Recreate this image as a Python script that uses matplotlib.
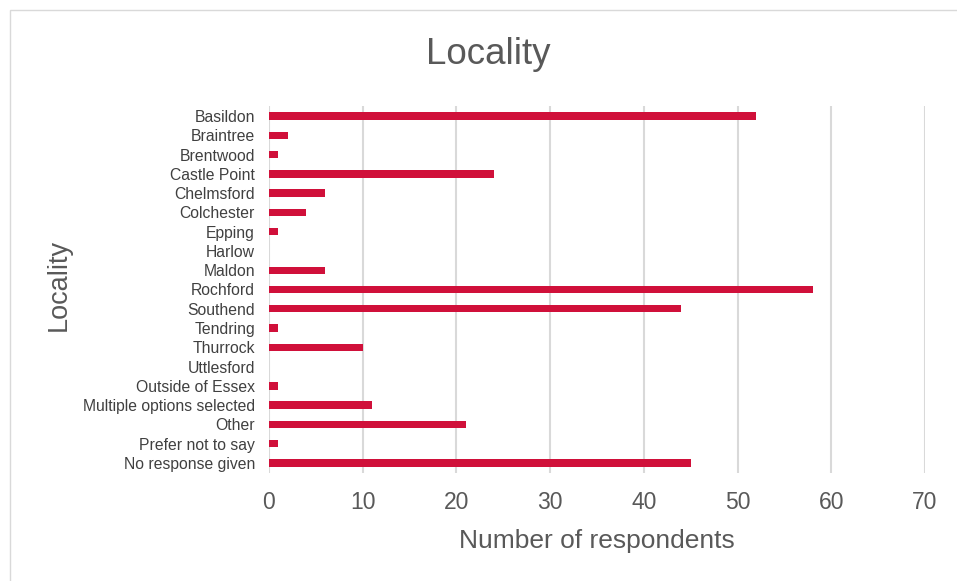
import matplotlib
matplotlib.use("Agg")
import matplotlib.pyplot as plt
from matplotlib.patches import Rectangle

categories = ["Basildon", "Braintree", "Brentwood", "Castle Point", "Chelmsford",
              "Colchester", "Epping", "Harlow", "Maldon", "Rochford", "Southend",
              "Tendring", "Thurrock", "Uttlesford", "Outside of Essex",
              "Multiple options selected", "Other", "Prefer not to say",
              "No response given"]
respondents = [52, 2, 1, 24, 6, 4, 1, 0, 6, 58, 44, 1, 10, 0, 1, 11, 21, 1, 45]
x_ticks = [0, 10, 20, 30, 40, 50, 60, 70]

plt.rcParams['font.family'] = ['Liberation Sans', 'DejaVu Sans']
text_col = '#595959'

fig = plt.figure(figsize=(9.57, 5.81), dpi=100)
ax = fig.add_axes([0.281, 0.1866, 0.6856, 0.6303])

pos = list(range(len(categories)))
ax.barh(pos, respondents, height=0.38, color='#D0103A', zorder=3)
ax.set_ylim(len(categories) - 0.5, -0.5)
ax.set_xlim(0, 70)
ax.set_yticks(pos)
ax.set_yticklabels(categories, fontsize=11.3, color='#404040')
ax.set_xticks(x_ticks)
ax.set_xticklabels([str(t) for t in x_ticks], fontsize=16.5, color=text_col)
ax.tick_params(length=0)
ax.tick_params(axis='y', pad=10)
ax.tick_params(axis='x', pad=13)
ax.grid(axis='x', color='#D9D9D9', linewidth=1.5, zorder=0)
for s in ax.spines.values():
    s.set_visible(False)

ax.set_xlabel("Number of respondents", fontsize=19, color=text_col, labelpad=11)
ax.set_ylabel("Locality", fontsize=19.5, color=text_col)
ax.yaxis.set_label_coords(-0.30, 0.513)

fig.text(0.51, 0.907, "Locality", fontsize=26.5, color=text_col, ha='center', va='center')

# chart area border
fig.patches.append(Rectangle((10 / 957, -0.01), 1.0, 1 - 10 / 581 + 0.01,
                             transform=fig.transFigure, fill=False,
                             edgecolor='#D9D9D9', linewidth=1))

fig.savefig("out.png", dpi=100)
